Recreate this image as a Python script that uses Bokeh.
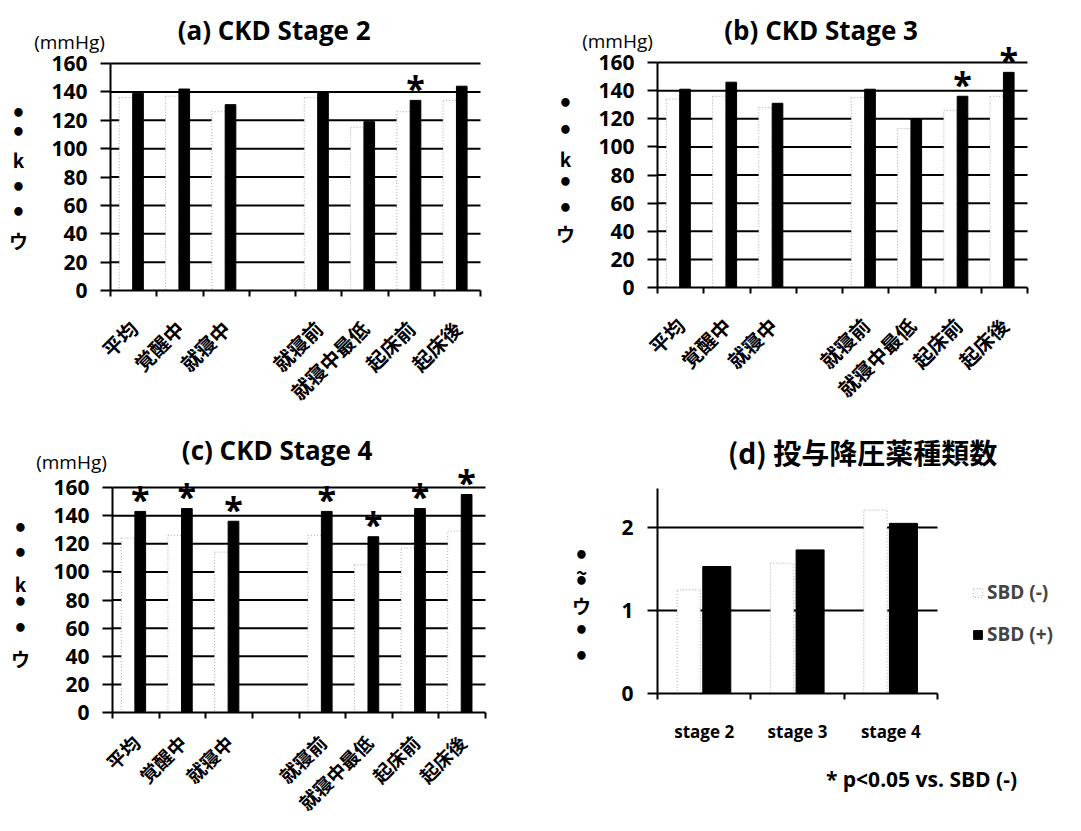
import math
from bokeh.plotting import figure
from bokeh.models import FixedTicker, Label, Legend, LegendItem, Range1d
from bokeh.layouts import row, column
from bokeh.core.properties import value
from bokeh.embed import file_html
from bokeh.resources import INLINE

nan = float("nan")

# ---------------- data ----------------
categories = ["平均", "覚醒中", "就寝中", "", "就寝前", "就寝中最低", "起床前", "起床後"]

a_neg = [136, 137, 126, nan, 136, 115, 126, 134]
a_pos = [139, 142, 131, nan, 140, 119, 134, 144]
a_sig = [0, 0, 0, 0, 0, 0, 1, 0]

b_neg = [134, 136, 128, nan, 135, 113, 126, 136]
b_pos = [141, 146, 131, nan, 141, 120, 136, 153]
b_sig = [0, 0, 0, 0, 0, 0, 1, 1]

c_neg = [124, 126, 114, nan, 126, 105, 117, 129]
c_pos = [143, 145, 136, nan, 143, 125, 145, 155]
c_sig = [1, 1, 1, 0, 1, 1, 1, 1]

stages = ["stage 2", "stage 3", "stage 4"]
d_neg = [1.25, 1.57, 2.21]
d_pos = [1.53, 1.73, 2.05]

bp_ticks = [0, 20, 40, 60, 80, 100, 120, 140, 160]
d_ticks = [0, 1, 2]
d_axis_top = 2.47

titles = ["(a) CKD Stage  2", "(b) CKD Stage  3", "(c) CKD Stage  4", "(d) 投与降圧薬種類数"]
unit_text = "(mmHg)"
ylab_chars = ["•", "•", "k", "•", "•", "ウ"]
ylab_chars_d = ["•", "~", "•", "ウ", "•", "•"]
legend_labels = ["SBD (-)", "SBD (+)"]
footnote = "* p<0.05 vs. SBD (-)"

LATIN = "Open Sans"
CJK = "Noto Sans CJK JP"


def make_geo(ox, oy, fw, fh, x0, x1, X0, X1, y0, y1, Y0, Y1):
    """ox, oy: picture position of figure; fw, fh: figure size;
    data x0..x1 sits at picture X0..X1, data y0..y1 at picture Y0..Y1."""
    kx = (X1 - X0) / (x1 - x0)
    ky = (Y0 - Y1) / (y1 - y0)
    xs = x0 - (X0 - ox) / kx
    ye = y1 + (Y1 - oy) / ky
    return dict(ox=ox, oy=oy, fw=fw, fh=fh, kx=kx, ky=ky,
                xs=xs, xe=xs + fw / kx, ye=ye, ys=ye - fh / ky)


def put(p, g, px, py, text, size, font=LATIN, style="bold", align="center"):
    x = g["xs"] + (px - g["ox"]) / g["kx"]
    y = g["ye"] - (py - g["oy"]) / g["ky"]
    p.add_layout(Label(x=x, y=y, text=text, text_align=align, text_baseline="middle",
                       text_font=font, text_font_size=size, text_font_style=style,
                       text_color="black"))


def ylabel_stack(p, g, chars, xy):
    for ch, (px, py) in zip(chars, xy):
        if ch == "•":
            put(p, g, px, py, ch, "24px", font="DejaVu Sans")
        else:
            put(p, g, px, py, ch, "19px", font=CJK)


def base_fig(g):
    p = figure(frame_width=g["fw"], frame_height=g["fh"],
               x_range=Range1d(g["xs"], g["xe"]), y_range=Range1d(g["ys"], g["ye"]),
               min_border=0, output_backend="svg", toolbar_location=None, tools="")
    p.outline_line_color = None
    p.background_fill_color = "white"
    p.border_fill_color = "white"
    p.xgrid.visible = False
    p.ygrid.visible = False
    for ax in (p.xaxis[0], p.yaxis[0]):
        ax.fixed_location = 0
        ax.axis_line_color = "black"
        ax.axis_line_width = 2
        ax.major_tick_line_color = "black"
        ax.major_tick_line_width = 2
        ax.minor_tick_line_color = "black"
        ax.minor_tick_line_width = 2
        ax.major_label_text_color = "black"
    return p


def style_y(p, ticks, top, standoff):
    p.yaxis.ticker = FixedTicker(ticks=ticks)
    p.yaxis.bounds = (ticks[0], top)
    p.yaxis.major_tick_out = 10
    p.yaxis.major_tick_in = 0
    p.yaxis.minor_tick_out = 0
    p.yaxis.minor_tick_in = 0
    p.yaxis.major_label_text_font = LATIN
    p.yaxis.major_label_text_font_style = "bold"
    p.yaxis.major_label_text_font_size = "21px"
    p.yaxis.major_label_standoff = standoff


def bp_panel(g, neg, pos, sig, title, ylab_xy, title_xy, unit_xy, xl_size, xl_standoff):
    n = len(categories)
    p = base_fig(g)
    centers = [i + 0.5 for i in range(n)]
    grid_y = [t for t in bp_ticks if t > 0]
    p.segment(x0=[0] * len(grid_y), x1=[n] * len(grid_y), y0=grid_y, y1=grid_y,
              line_color="black", line_width=2, level="underlay")
    p.vbar(x=[c - 0.165 for c in centers], top=neg, bottom=0, width=0.29,
           fill_color="white", line_color="#a8a8a8", line_width=1, line_dash="1 2")
    p.vbar(x=[c + 0.095 for c in centers], top=pos, bottom=0, width=0.23,
           fill_color="black", line_color="black")
    sx = [centers[i] + 0.095 for i in range(n) if sig[i]]
    sy = [pos[i] + 9 for i in range(n) if sig[i]]
    p.text(x=sx, y=sy, text=["*"] * len(sx), text_align="center", text_baseline="alphabetic",
           text_font=value(LATIN), text_font_style="bold", text_font_size="34px", text_color="black")

    style_y(p, bp_ticks, bp_ticks[-1], 13)
    p.xaxis.bounds = (0, n)
    label_ticks = [centers[i] for i in range(n) if categories[i]]
    p.xaxis.ticker = FixedTicker(ticks=label_ticks, minor_ticks=list(range(n + 1)))
    p.xaxis.major_label_overrides = {centers[i]: categories[i] for i in range(n) if categories[i]}
    p.xaxis.major_tick_out = 0
    p.xaxis.major_tick_in = 0
    p.xaxis.minor_tick_out = 6
    p.xaxis.minor_tick_in = 0
    p.xaxis.major_label_orientation = math.pi / 4
    p.xaxis.major_label_text_font = CJK
    p.xaxis.major_label_text_font_style = "bold"
    p.xaxis.major_label_text_font_size = xl_size
    p.xaxis.major_label_standoff = xl_standoff

    put(p, g, title_xy[0], title_xy[1], title, "26px")
    put(p, g, unit_xy[0], unit_xy[1], unit_text, "19px", style="normal")
    ylabel_stack(p, g, ylab_chars, ylab_xy)
    return p


n_cat = len(categories)
ga = make_geo(0, 0, 532, 407, 0, n_cat, 110, 480, 0, 160, 290, 63)
gb = make_geo(532, 0, 533, 407, 0, n_cat, 657, 1027, 0, 160, 287, 62)
gc = make_geo(0, 407, 532, 416, 0, n_cat, 112, 485, 0, 160, 712, 487)
gd = make_geo(532, 407, 533, 416, 0, len(stages), 657, 937, 0, 2, 693, 527)

pa = bp_panel(ga, a_neg, a_pos, a_sig, titles[0],
              [(18, 113), (18, 132), (18, 159), (18, 187), (18, 212), (18, 240)],
              (277, 29), (69, 41), "20px", 28)
pb = bp_panel(gb, b_neg, b_pos, b_sig, titles[1],
              [(565, 103), (565, 130), (565, 158), (565, 182), (565, 208), (565, 233)],
              (824, 29), (617, 40), "20px", 28)
pc = bp_panel(gc, c_neg, c_pos, c_sig, titles[2],
              [(20, 528), (20, 553), (20, 583), (20, 602), (20, 628), (20, 658)],
              (280, 449), (71, 461), "19px", 20)

# ---------------- panel (d) ----------------
pd = base_fig(gd)
m = len(stages)
dc = [i + 0.5 for i in range(m)]
gyd = [t for t in d_ticks if t > 0]
pd.segment(x0=[0] * len(gyd), x1=[m] * len(gyd), y0=gyd, y1=gyd,
           line_color="black", line_width=2, level="underlay")
rn = pd.vbar(x=[c - 0.165 for c in dc], top=d_neg, bottom=0, width=0.25,
             fill_color="white", line_color="#a8a8a8", line_width=1, line_dash="1 2")
rp = pd.vbar(x=[c + 0.135 for c in dc], top=d_pos, bottom=0, width=0.3,
             fill_color="black", line_color="black")
style_y(pd, d_ticks, d_axis_top, 14)
pd.xaxis.bounds = (0, m)
pd.xaxis.ticker = FixedTicker(ticks=dc, minor_ticks=list(range(m + 1)))
pd.xaxis.major_label_overrides = {dc[i]: stages[i] for i in range(m)}
pd.xaxis.major_tick_out = 0
pd.xaxis.major_tick_in = 0
pd.xaxis.minor_tick_out = 6
pd.xaxis.minor_tick_in = 0
pd.xaxis.major_label_text_font = LATIN
pd.xaxis.major_label_text_font_style = "bold"
pd.xaxis.major_label_text_font_size = "17px"
pd.xaxis.major_label_standoff = 20

legend = Legend(items=[LegendItem(label=legend_labels[0], renderers=[rn]),
                       LegendItem(label=legend_labels[1], renderers=[rp])],
                location=(440, 176), orientation="vertical",
                glyph_width=11, glyph_height=11, label_standoff=4, spacing=16,
                padding=0, margin=0, border_line_color=None, background_fill_alpha=0,
                label_text_font=LATIN, label_text_font_style="bold", label_text_font_size="19px")
pd.add_layout(legend)

put(pd, gd, 862, 451, titles[3], "28px", font=CJK)
ylabel_stack(pd, gd, ylab_chars_d,
             [(581, 555), (581, 571), (581, 581), (581, 605), (581, 630), (581, 656)])
put(pd, gd, 921, 778, footnote, "21px", style="bold")

layout = column(row(pa, pb), row(pc, pd))
open("out.html", "w").write(file_html(layout, INLINE))
